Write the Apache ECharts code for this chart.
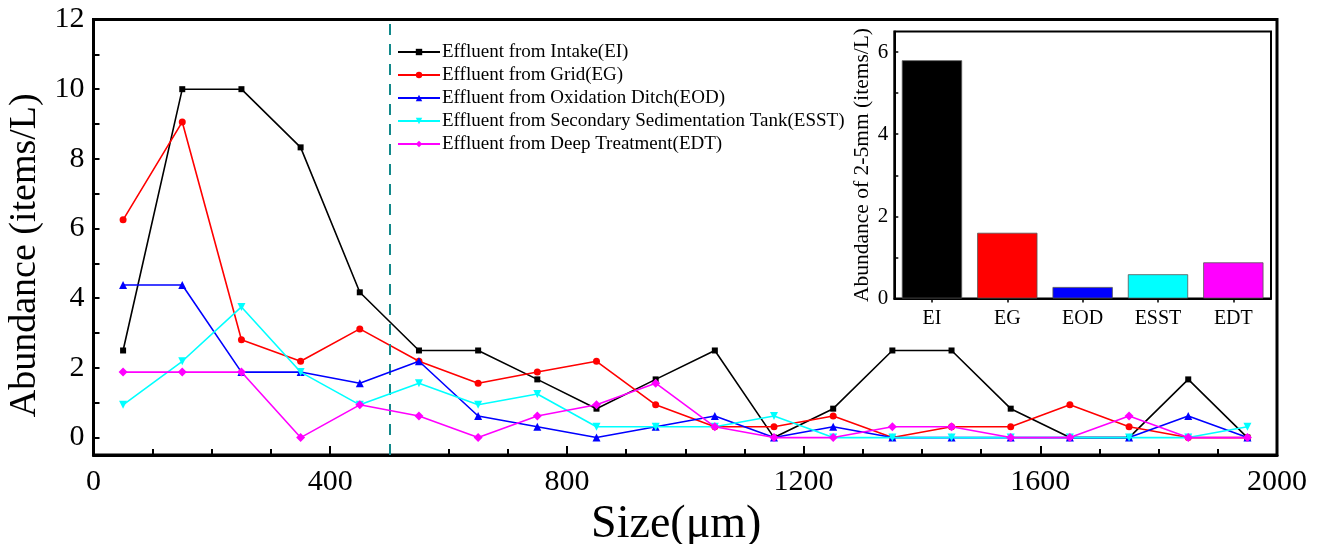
<!DOCTYPE html>
<html>
<head>
<meta charset="utf-8">
<script src="https://cdn.jsdelivr.net/npm/echarts@6/dist/echarts.min.js"></script>
<style>
  html, body { margin: 0; padding: 0; background: #fff; }
  #chart { width: 1320px; height: 544px; }
</style>
</head>
<body>
<div id="chart"></div>
<script>
// Particle size bin centres (µm)
const sizes = [50, 150, 250, 350, 450, 550, 650, 750, 850, 950, 1050, 1150, 1250, 1350, 1450, 1550, 1650, 1750, 1850, 1950];

// Abundance per size bin (items/L) for each treatment stage
const EI   = [2.5, 10, 10, 8.33, 4.17, 2.5, 2.5, 1.67, 0.83, 1.67, 2.5, 0, 0.83, 2.5, 2.5, 0.83, 0, 0, 1.67, 0];
const EG   = [6.25, 9.06, 2.81, 2.19, 3.12, 2.19, 1.56, 1.88, 2.19, 0.94, 0.31, 0.31, 0.62, 0, 0.31, 0.31, 0.94, 0.31, 0, 0];
const EOD  = [4.38, 4.38, 1.88, 1.88, 1.56, 2.19, 0.62, 0.31, 0, 0.31, 0.62, 0, 0.31, 0, 0, 0, 0, 0, 0.62, 0];
const ESST = [0.94, 2.19, 3.75, 1.88, 0.94, 1.56, 0.94, 1.25, 0.31, 0.31, 0.31, 0.62, 0, 0, 0, 0, 0, 0, 0, 0.31];
const EDT  = [1.88, 1.88, 1.88, 0, 0.94, 0.62, 0, 0.62, 0.94, 1.56, 0.31, 0, 0, 0.31, 0.31, 0, 0, 0.62, 0, 0];

const seriesNames = [
  'Effluent from Intake(EI)',
  'Effluent from Grid(EG)',
  'Effluent from Oxidation Ditch(EOD)',
  'Effluent from Secondary Sedimentation Tank(ESST)',
  'Effluent from Deep Treatment(EDT)'
];

// Inset: abundance of 2-5 mm particles per stage
const stages = ['EI', 'EG', 'EOD', 'ESST', 'EDT'];
const largeAbundance = [5.8, 1.6, 0.28, 0.59, 0.88];

// Axis tick values
const xLabelTicks = [0, 400, 800, 1200, 1600, 2000];
const yLabelTicks = [0, 2, 4, 6, 8, 10, 12];
const yMinorTicks = [0, 1, 2, 3, 4, 5, 6, 7, 8, 9, 10, 11, 12];
const insetLabelTicks = [0, 2, 4, 6];
const insetTicks = [0, 1, 2, 3, 4, 5, 6];

// Boundary between small and large size fractions (µm)
const cutoff = 500;

const FONT = 'Liberation Serif';
const colors = ['#000000', '#ff0000', '#0000ff', '#00ffff', '#ff00ff'];
const symbols = ['rect', 'circle', 'triangle', 'path://M0,0 L10,0 L5,10 Z', 'diamond'];
const symbolSizes = [6, 7, 8, 8, 9];
const lineData = [EI, EG, EOD, ESST, EDT];

const chart = echarts.init(document.getElementById('chart'), null, { renderer: 'canvas' });

const plain = v => String(v);

const lineSeries = lineData.map((vals, i) => ({
  name: seriesNames[i],
  type: 'line',
  xAxisIndex: 0,
  yAxisIndex: 0,
  data: sizes.map((s, k) => [s, vals[k]]),
  symbol: symbols[i],
  symbolSize: symbolSizes[i],
  showSymbol: true,
  color: colors[i],
  lineStyle: { color: colors[i], width: 1.6 },
  itemStyle: { color: colors[i] },
  animation: false,
  z: 3 + i,
  markLine: i === 0 ? {
    silent: true,
    symbol: ['none', 'none'],
    label: { show: false },
    lineStyle: { color: '#12898b', width: 2, type: [11, 9] },
    data: [{ xAxis: cutoff }],
    animation: false
  } : undefined
}));

const option = {
  backgroundColor: '#ffffff',
  animation: false,
  textStyle: { fontFamily: FONT },
  grid: [
    { left: 93.5, right: 43, top: 19.5, bottom: 89, show: true, borderColor: '#000', borderWidth: 3, backgroundColor: 'transparent', outerBoundsMode: 'none', containLabel: false },
    { left: 894.3, top: 31.5, width: 376.7, height: 267, show: true, borderColor: '#000', borderWidth: 2, backgroundColor: '#fff', z: 10, outerBoundsMode: 'none', containLabel: false }
  ],
  legend: {
    orient: 'vertical',
    left: 392,
    top: 37,
    itemWidth: 42,
    itemHeight: 8,
    itemGap: 3,
    data: seriesNames,
    textStyle: { fontFamily: FONT, fontSize: 19, color: '#000', lineHeight: 20, padding: [0, 0, 0, -3] },
    z: 20
  },
  xAxis: [
    {
      type: 'value',
      gridIndex: 0,
      min: 0,
      max: 2000,
      interval: 400,
      splitLine: { show: false },
      axisLine: { show: true, onZero: false, lineStyle: { color: '#000', width: 3 } },
      axisTick: { show: true, inside: true, length: 9, lineStyle: { color: '#000', width: 2 } },
      minorTick: { show: true, splitNumber: 4, length: 6, lineStyle: { color: '#000', width: 2 } },
      axisLabel: { fontFamily: FONT, fontSize: 30, color: '#000', margin: 12, customValues: xLabelTicks, formatter: plain },
      name: 'Size(\u03bcm)',
      nameLocation: 'middle',
      nameGap: 40,
      nameTextStyle: { fontFamily: FONT, fontSize: 46, color: '#000', padding: [0, 18, 0, 0] }
    },
    {
      type: 'category',
      gridIndex: 1,
      data: stages,
      axisLine: { show: true, lineStyle: { color: '#000', width: 2 } },
      axisTick: { show: true, alignWithLabel: true, length: 4, lineStyle: { color: '#000', width: 1.5 } },
      axisLabel: { fontFamily: FONT, fontSize: 20, color: '#000', margin: 10 },
      splitLine: { show: false },
      z: 11
    }
  ],
  yAxis: [
    {
      type: 'value',
      gridIndex: 0,
      min: -0.5,
      max: 12,
      splitLine: { show: false },
      axisLine: { show: true, onZero: false, lineStyle: { color: '#000', width: 3 } },
      axisTick: { show: true, inside: true, length: 6, customValues: yMinorTicks, lineStyle: { color: '#000', width: 2 } },
      axisLabel: { fontFamily: FONT, fontSize: 30, color: '#000', margin: 9, customValues: yLabelTicks, formatter: plain },
      name: 'Abundance (items/L)',
      nameLocation: 'middle',
      nameGap: 45,
      nameTextStyle: { fontFamily: FONT, fontSize: 38, color: '#000', padding: [0, 36, 0, 0] }
    },
    {
      type: 'value',
      gridIndex: 1,
      min: 0,
      max: 6.5,
      splitLine: { show: false },
      axisLine: { show: true, lineStyle: { color: '#000', width: 2 } },
      axisTick: { show: true, inside: true, length: 4, customValues: insetTicks, lineStyle: { color: '#000', width: 1.5 } },
      axisLabel: { fontFamily: FONT, fontSize: 21, color: '#000', margin: 6, customValues: insetLabelTicks, formatter: plain },
      name: 'Abundance of 2-5mm (items/L)',
      nameLocation: 'middle',
      nameGap: 21,
      nameTextStyle: { fontFamily: FONT, fontSize: 21.5, color: '#000' },
      z: 11
    }
  ],
  series: lineSeries.concat([
    {
      name: 'Abundance of 2-5mm',
      type: 'bar',
      xAxisIndex: 1,
      yAxisIndex: 1,
      barWidth: '80%',
      data: largeAbundance.map((v, i) => ({ value: v, itemStyle: { color: colors[i] } })),
      itemStyle: { borderColor: '#555', borderWidth: 0.8 },
      z: 12,
      animation: false
    }
  ])
};

chart.setOption(option);
</script>
</body>
</html>
